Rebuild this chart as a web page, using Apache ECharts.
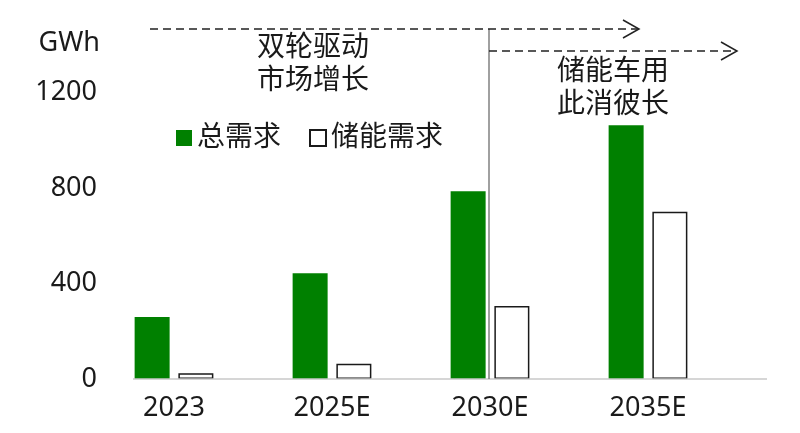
<!DOCTYPE html>
<html>
<head>
<meta charset="utf-8">
<script src="https://cdn.jsdelivr.net/npm/echarts@6/dist/echarts.min.js"></script>
<style>
  html, body { margin: 0; padding: 0; background: #fff; }
  #chart { width: 800px; height: 433px; }
</style>
</head>
<body>
<div id="chart"></div>
<script>
// 数据
const years = ['2023', '2025E', '2030E', '2035E'];
const totalDemand = [260, 443, 786, 1063];   // 总需求
const storageDemand = [24, 64, 306, 701];     // 储能需求
const yTicks = { min: 0, max: 1200, interval: 400 };
const unitName = 'GWh';
const noteLeft = ['双轮驱动', '市场增长'];
const noteRight = ['储能车用', '此消彼长'];

const FONT = "'Noto Sans', 'Noto Sans CJK SC', sans-serif";
const TXT = '#1a1a1a';

let chart = echarts.init(document.getElementById('chart'));

// 注释文字
function noteText(str, x, y) {
    return {
        type: 'text', x: x, y: y, z: 10,
        style: { text: str, fontSize: 28, fontFamily: FONT, fill: TXT, align: 'center', verticalAlign: 'middle' }
    };
}
// 虚线箭头
function dashArrow(x1, x2, y) {
    return [
        { type: 'line', z: 10, shape: { x1: x1, y1: y, x2: x2, y2: y },
          style: { stroke: '#222', lineWidth: 1.5, lineDash: [8, 5] } },
        { type: 'polyline', z: 10, shape: { points: [[x2 - 16, y - 9], [x2, y], [x2 - 16, y + 9]] },
          style: { stroke: '#222', lineWidth: 1.5, fill: null } }
    ];
}

let option = {
    backgroundColor: '#fff',
    animation: false,
    textStyle: { fontFamily: FONT },
    grid: { left: 95, right: 73, top: 92.5, bottom: 54 },
    legend: {
        left: 171, top: 119,
        icon: 'rect',
        itemWidth: 16, itemHeight: 16, itemGap: 28,
        textStyle: { fontSize: 28, color: TXT, fontFamily: FONT },
        data: ['总需求', '储能需求']
    },
    xAxis: {
        type: 'category',
        data: years,
        axisLine: { show: false },
        axisTick: { show: false },
        axisLabel: { fontSize: 27, color: TXT, margin: 16, fontFamily: FONT }
    },
    yAxis: {
        type: 'value',
        min: yTicks.min, max: yTicks.max, interval: yTicks.interval,
        offset: -2,
        axisLine: { show: false },
        axisTick: { show: false },
        splitLine: { show: false },
        axisLabel: { fontSize: 27, color: TXT, margin: 0, fontFamily: FONT, formatter: v => String(v) }
    },
    series: [
        {
            name: '总需求', type: 'bar', data: totalDemand,
            barWidth: 35, barGap: '25%',
            itemStyle: { color: '#008000' }
        },
        {
            name: '储能需求', type: 'bar', data: storageDemand,
            barWidth: 35,
            itemStyle: { color: '#fff', borderColor: '#1a1a1a', borderWidth: 1.5 }
        }
    ],
    graphic: [
        // 横轴线
        { type: 'line', z: 5, shape: { x1: 133, y1: 379, x2: 767, y2: 379 },
          style: { stroke: '#c8c8c8', lineWidth: 1.5 } },
        // 分隔竖线
        { type: 'line', z: 5, shape: { x1: 489, y1: 29, x2: 489, y2: 379 },
          style: { stroke: '#808080', lineWidth: 1.5 } },
        ...dashArrow(150, 639, 29),
        ...dashArrow(489, 737, 51),
        noteText(noteLeft[0], 313, 48),
        noteText(noteLeft[1], 313, 81),
        noteText(noteRight[0], 613, 72),
        noteText(noteRight[1], 613, 105),
        { type: 'text', x: 100, y: 43, z: 10,
          style: { text: unitName, fontSize: 27, fontFamily: FONT, fill: TXT, align: 'right', verticalAlign: 'middle' } }
    ]
};
chart.setOption(option);
</script>
</body>
</html>
